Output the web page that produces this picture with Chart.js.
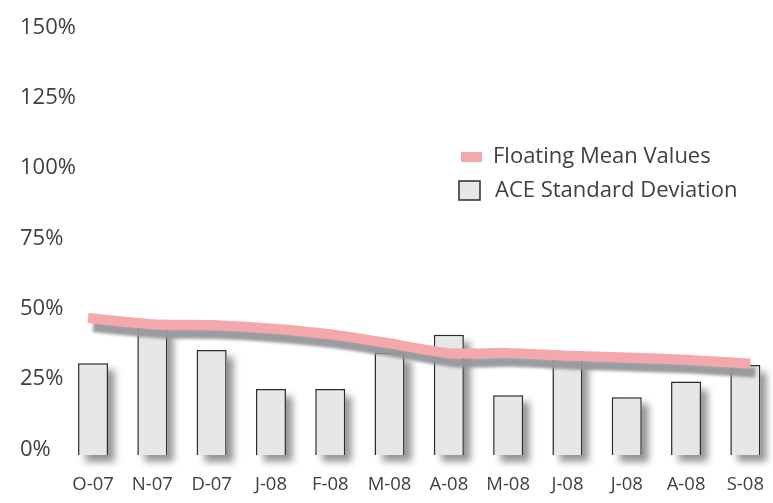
<!DOCTYPE html>
<html>
<head>
<meta charset="utf-8">
<script src="https://cdn.jsdelivr.net/npm/chart.js@4.4.1/dist/chart.umd.min.js"></script>
<style>
  html, body { margin: 0; padding: 0; background: #ffffff; overflow: hidden; }
  #wrap { width: 775px; height: 503px; }
</style>
</head>
<body>
<div id="wrap"><canvas id="chart" width="775" height="503"></canvas></div>
<script>
// Monthly categories, Oct 2007 – Sep 2008
const months = ['O-07', 'N-07', 'D-07', 'J-08', 'F-08', 'M-08', 'A-08', 'M-08', 'J-08', 'J-08', 'A-08', 'S-08'];
// Floating mean values (%)
const floatingMean = [48.5, 46.5, 46.2, 45.0, 42.9, 39.7, 36.2, 36.3, 35.3, 34.7, 33.9, 32.6];
// ACE standard deviation (%)
const aceStdDev = [32.6, 45.5, 37.3, 23.5, 23.5, 36.4, 42.7, 21.2, 35.0, 20.5, 26.1, 32.0];
// Percentage ticks on the value axis
const yTickValues = [0, 25, 50, 75, 100, 125, 150];

const TEXT = '#404040';
const PINK = '#f5a8ac';
const BAR_FILL = '#e6e7e7';
const BAR_EDGE = '#2c2c2c';

// Soft drop shadow under each bar and under the mean line
const shadowPlugin = {
  id: 'shadows',
  beforeDatasetDraw(chart, args) {
    const ds = chart.data.datasets[args.index];
    const ctx = chart.ctx;
    if (ds.type === 'line') {
      ctx.save();
      ctx.shadowColor = 'rgba(150,151,154,0.95)';
      ctx.shadowBlur = 3;
      ctx.shadowOffsetX = 5;
      ctx.shadowOffsetY = 9;
    } else {
      ctx.save();
      ctx.shadowColor = 'rgba(60,60,60,0.55)';
      ctx.shadowBlur = 7;
      ctx.shadowOffsetX = 7;
      ctx.shadowOffsetY = 7;
      ctx.fillStyle = BAR_FILL;
      args.meta.data.forEach(bar => {
        const p = bar.getProps(['x', 'y', 'base', 'width'], true);
        ctx.fillRect(p.x - p.width / 2, p.y, p.width, p.base - p.y);
      });
      ctx.restore();
    }
  },
  afterDatasetDraw(chart, args) {
    const ds = chart.data.datasets[args.index];
    if (ds.type === 'line') chart.ctx.restore();
  }
};

// Legend inside the plot, on the right
const legendPlugin = {
  id: 'innerLegend',
  afterDraw(chart) {
    const ctx = chart.ctx;
    const line = chart.data.datasets[0];
    const bars = chart.data.datasets[1];
    ctx.save();
    ctx.font = '22px "Open Sans"';
    ctx.textBaseline = 'middle';
    ctx.textAlign = 'left';

    ctx.fillStyle = line.borderColor;
    ctx.fillRect(461, 152, 21, 10);
    ctx.fillStyle = TEXT;
    ctx.fillText(line.label, 493, 157);

    ctx.fillStyle = bars.backgroundColor;
    ctx.fillRect(459, 181, 21, 19);
    ctx.strokeStyle = bars.borderColor;
    ctx.lineWidth = 1.5;
    ctx.strokeRect(459, 181, 21, 19);
    ctx.fillStyle = TEXT;
    ctx.fillText(bars.label, 495, 191);
    ctx.restore();
  }
};

new Chart(document.getElementById('chart'), {
  type: 'bar',
  data: {
    labels: months,
    datasets: [
      {
        type: 'line',
        label: 'Floating Mean Values',
        data: floatingMean,
        borderColor: PINK,
        backgroundColor: PINK,
        borderWidth: 10,
        borderCapStyle: 'square',
        pointRadius: 0,
        pointHoverRadius: 0,
        tension: 0.2,
        fill: false,
        order: 0
      },
      {
        type: 'bar',
        label: 'ACE Standard Deviation',
        data: aceStdDev,
        backgroundColor: BAR_FILL,
        borderColor: BAR_EDGE,
        borderWidth: 1.5,
        barPercentage: 1,
        categoryPercentage: 0.506,
        order: 1
      }
    ]
  },
  options: {
    responsive: false,
    animation: false,
    layout: { autoPadding: false, padding: { left: 20, top: 33, right: 0, bottom: 0 } },
    plugins: {
      legend: { display: false },
      tooltip: { enabled: false }
    },
    scales: {
      x: {
        offset: true,
        grid: { display: false, drawTicks: true, tickLength: 19 },
        border: { display: false },
        ticks: {
          color: TEXT,
          font: { family: 'Open Sans', size: 18.5 },
          padding: 0,
          maxRotation: 0,
          autoSkip: false
        },
        afterFit(scale) { scale.height = 48; }
      },
      y: {
        min: 0,
        max: 150,
        grid: { display: false, drawTicks: false },
        border: { display: false },
        afterBuildTicks(scale) { scale.ticks = yTickValues.map(v => ({ value: v })); },
        afterFit(scale) { scale.width = 43.4; },
        ticks: {
          color: TEXT,
          font: { family: 'Open Sans', size: 22 },
          mirror: true,
          crossAlign: 'near',
          padding: -43.4,
          labelOffset: -5.5,
          callback: v => v + '%'
        }
      }
    }
  },
  plugins: [shadowPlugin, legendPlugin]
});
</script>
</body>
</html>
